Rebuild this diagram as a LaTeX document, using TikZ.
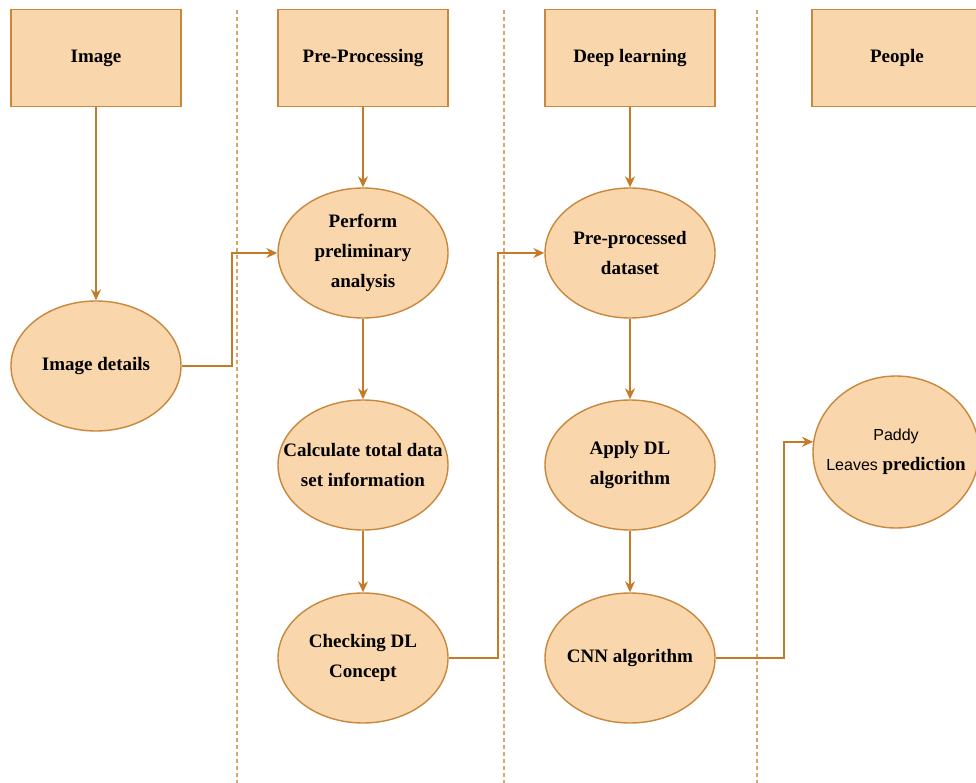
\documentclass[tikz,border=0pt]{standalone}
\usepackage{fontspec}
\setmainfont{Liberation Serif}
\newfontfamily\paddysans{Liberation Sans}
\usetikzlibrary{shapes.geometric,arrows.meta}
\definecolor{peach}{HTML}{F9D6AB}
\definecolor{rim}{HTML}{C8873C}
\definecolor{flow}{HTML}{C47A26}
\definecolor{lane}{HTML}{D9A66C}
\begin{document}
\begin{tikzpicture}[
			x=1pt, y=-1pt,
			>={Stealth[length=11pt,width=10pt]},
			head box/.style={draw=rim, fill=peach, line width=1.8pt, minimum width=170pt, minimum height=97pt, inner sep=0pt, font=\fontsize{19}{30}\selectfont\bfseries},
			step node/.style={ellipse, draw=rim, fill=peach, line width=1.4pt, minimum width=170pt, minimum height=130pt, inner xsep=-40pt, inner ysep=-25pt, align=center, font=\fontsize{19}{30}\selectfont\bfseries},
			flow line/.style={draw=flow, line width=1.6pt},
			lane line/.style={draw=lane, line width=1.4pt, dash pattern=on 4pt off 3pt}
			]
			\clip (0,0) rectangle (976,783);
			% swim lanes
			\foreach \lx in {237,504,757}
				\draw[lane line] (\lx,10) -- (\lx,783);
			
			\node[head box] (image) at (96,58) {Image};
			\node[head box] (prep) at (363,58) {Pre-Processing};
			\node[head box] (deep) at (630,58) {Deep learning};
			\node[head box] (people) at (897,58) {People};
			
			\node[step node] (details) at (96,366) {Image details};
			\node[step node] (perform) at (363,253) {Perform\\preliminary\\analysis};
			\node[step node] (calc) at (363,465) {Calculate total data\\set information};
			\node[step node] (check) at (363,658) {Checking DL\\Concept};
			\node[step node] (dataset) at (630,253) {Pre-processed\\dataset};
			\node[step node] (apply) at (630,465) {Apply DL\\algorithm};
			\node[step node] (cnn) at (630,658) {CNN algorithm};
			\node[step node, minimum width=166pt, minimum height=152pt] (paddy) at (896,452) {{\paddysans\mdseries\fontsize{16}{25}\selectfont Paddy}\\{\paddysans\mdseries\fontsize{16}{25}\selectfont Leaves} prediction};
			
			\draw[flow line, ->] (image) -- (details);
			\draw[flow line, ->] (details.east) -- ++(50,0) |- (perform.west);
			\draw[flow line, ->] (prep) -- (perform);
			\draw[flow line, ->] (perform) -- (calc);
			\draw[flow line, ->] (calc) -- (check);
			\draw[flow line, ->] (check.east) -- ++(49,0) |- (dataset.west);
			\draw[flow line, ->] (deep) -- (dataset);
			\draw[flow line, ->] (dataset) -- (apply);
			\draw[flow line, ->] (apply) -- (cnn);
			\draw[flow line, ->] (cnn.east) -- ++(68,0) |- (paddy.173);
		\end{tikzpicture}
\end{document}
